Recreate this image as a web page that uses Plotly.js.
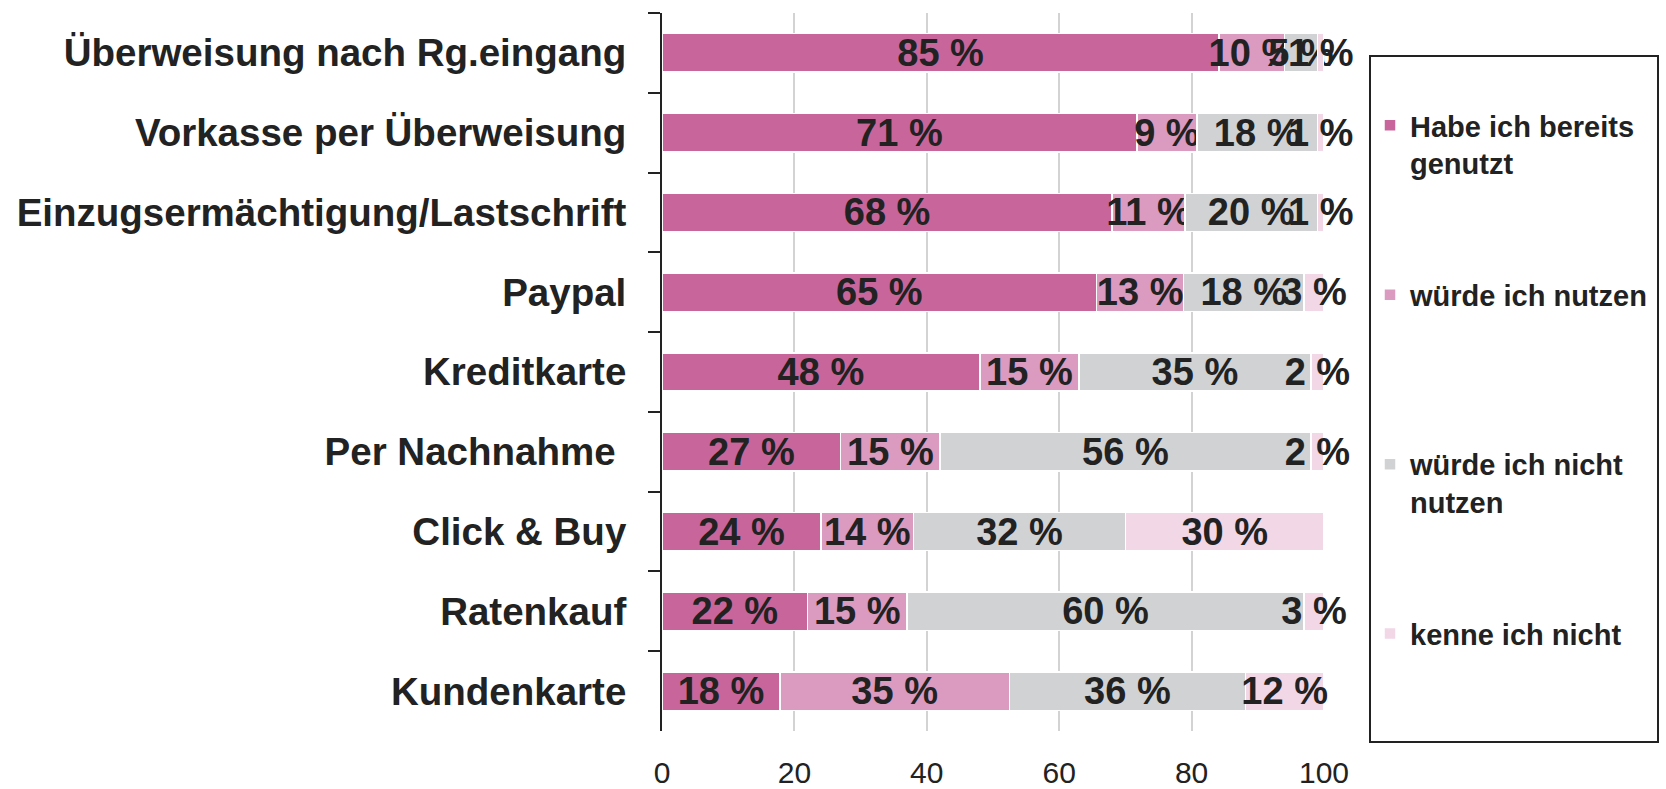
<!DOCTYPE html>
<html>
<head>
<meta charset="utf-8">
<script src="https://cdn.plot.ly/plotly-3.0.1.min.js"></script>
<style>html,body{margin:0;padding:0;background:#fff;}#chart{width:1666px;height:789px;}</style>
</head>
<body>
<div id="chart"></div>
<script>
const categories = [
  "Überweisung nach Rg.eingang",
  "Vorkasse per Überweisung",
  "Einzugsermächtigung/Lastschrift",
  "Paypal",
  "Kreditkarte",
  "Per Nachnahme\u00a0",
  "Click & Buy",
  "Ratenkauf",
  "Kundenkarte"
];
const habeGenutzt   = [85, 71, 68, 65, 48, 27, 24, 22, 18];
const wuerdeNutzen  = [10,  9, 11, 13, 15, 15, 14, 15, 35];
const nichtNutzen   = [ 5, 18, 20, 18, 35, 56, 32, 60, 36];
const kenneNicht    = [ 1,  1,  1,  3,  2,  2, 30,  3, 12];
const seriesNames = [
  "Habe ich bereits<br>genutzt",
  "würde ich nutzen<br> ",
  "würde ich nicht<br>nutzen",
  "kenne ich nicht"
];
const seriesColors = ["#C8669C", "#DB9ABF", "#D1D2D4", "#F2D7E7"];
const xTicks = [0, 20, 40, 60, 80, 100];

const FONT = "Liberation Sans, Arial, Helvetica, sans-serif";
const allSeries = [habeGenutzt, wuerdeNutzen, nichtNutzen, kenneNicht];

const traces = allSeries.map((vals, i) => ({
  type: "bar",
  orientation: "h",
  name: seriesNames[i],
  legendgroup: "g" + i,
  y: categories,
  x: vals,
  text: vals.map(v => v + " %"),
  textposition: "inside",
  insidetextanchor: "middle",
  textangle: 0,
  cliponaxis: false,
  textfont: {family: FONT, size: 38, color: "#222", weight: "bold"},
  marker: {color: seriesColors[i], line: {color: "#ffffff", width: 1.5}},
  hoverinfo: "none"
}));

const W = 1666, H = 789;
const L = 662, R = 342, T = 13, B = 58;
const pw = W - L - R, ph = H - T - B;
const px = v => (v - L) / pw;
const py = v => (H - B - v) / ph;

const layout = {
  width: W, height: H, autosize: false,
  margin: {l: L, r: R, t: T, b: B, pad: 0},
  paper_bgcolor: "#fff", plot_bgcolor: "#fff",
  barmode: "stack", barnorm: "percent", bargap: 0.52,
  uniformtext: {mode: "show", minsize: 38},
  font: {family: FONT, color: "#222"},
  xaxis: {
    range: [0, 100], tickvals: xTicks, ticktext: xTicks.map(String),
    showgrid: true, gridcolor: "#D3D3D3", gridwidth: 2,
    zeroline: false, showline: false, ticks: "outside", ticklen: 15,
    tickcolor: "rgba(0,0,0,0)",
    tickfont: {family: FONT, size: 30, color: "#222"}
  },
  yaxis: {
    type: "category", autorange: "reversed",
    showline: true, linecolor: "#222", linewidth: 2,
    ticks: "outside", tickson: "boundaries", ticklen: 12, tickwidth: 2, tickcolor: "#222",
    showgrid: false, zeroline: false,
    ticklabelstandoff: 26,
    tickfont: {family: FONT, size: 38.5, color: "#222", weight: "bold"}
  },
  showlegend: true,
  legend: {
    x: px(1370), xanchor: "left", y: py(100), yanchor: "top",
    traceorder: "grouped", tracegroupgap: 91, valign: "top",
    bgcolor: "rgba(0,0,0,0)", borderwidth: 0,
    font: {family: FONT, size: 29, color: "#222", weight: "bold"}
  },
  shapes: [{
    type: "rect", xref: "paper", yref: "paper",
    x0: px(1370), x1: px(1658), y0: py(742), y1: py(56),
    line: {color: "#222", width: 2}, fillcolor: "rgba(0,0,0,0)", layer: "below"
  }]
};

Plotly.newPlot("chart", traces, layout, {staticPlot: true, displayModeBar: false});
</script>
</body>
</html>
